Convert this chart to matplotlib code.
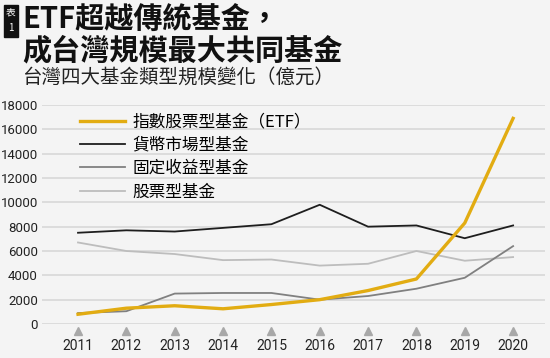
import matplotlib.pyplot as plt
from matplotlib.patches import Rectangle

plt.rcParams['font.family'] = ['Noto Sans CJK TC', 'DejaVu Sans']

years = [2011, 2012, 2013, 2014, 2015, 2016, 2017, 2018, 2019, 2020]
etf = [800, 1300, 1500, 1250, 1600, 2000, 2750, 3700, 8300, 16900]
money_market = [7500, 7700, 7600, 7900, 8200, 9800, 8000, 8100, 7050, 8100]
fixed_income = [900, 1050, 2500, 2550, 2550, 2000, 2300, 2900, 3800, 6400]
equity = [6700, 6000, 5750, 5250, 5300, 4800, 4950, 6000, 5200, 5500]
labels = ['指數股票型基金（ETF）', '貨幣市場型基金', '固定收益型基金', '股票型基金']

bg = '#f4f4f4'
fig = plt.figure(figsize=(5.5, 3.58), dpi=100, facecolor=bg)
ax = fig.add_axes([42/550, 34/358, 503/550, 219/358], facecolor=bg)

ax.plot(years, etf, color='#e2ac12', lw=2.4, label=labels[0], zorder=5)
ax.plot(years, money_market, color='#1e1e1e', lw=1.3, label=labels[1], zorder=4)
ax.plot(years, fixed_income, color='#808080', lw=1.3, label=labels[2], zorder=3)
ax.plot(years, equity, color='#bdbdbd', lw=1.3, label=labels[3], zorder=2)

num_font = ['Roboto', 'DejaVu Sans']
ax.set_xlim(2010.255, 2020.66)
ax.set_ylim(0, 18000)
ax.set_yticks(range(0, 18001, 2000))
ax.set_yticklabels([str(v) for v in range(0, 18001, 2000)], fontsize=9.5,
                   color='#222222', family=num_font)
ax.grid(axis='y', color='#d8d8d8', lw=1.2)
ax.set_axisbelow(True)
for s in ax.spines.values():
    s.set_visible(False)
ax.tick_params(axis='y', length=0, pad=3)
ax.tick_params(axis='x', length=0, pad=11)
ax.set_xticks(years)
ax.set_xticklabels([str(y) for y in years], fontsize=10, color='#222222', family=num_font)

# little triangles under each year
ax.plot(years, [-560] * len(years), marker='^', ls='none', color='#a8a8a8',
        markersize=6, clip_on=False)

leg = ax.legend(loc='upper left', bbox_to_anchor=(0.045, 1.03), frameon=False,
                fontsize=12, handlelength=2.7, handletextpad=0.45, labelspacing=0.38)

# title block
fig.patches.append(Rectangle((4/550, 1 - 37/358), 14/550, 32/358,
                             transform=fig.transFigure, color='#111111'))
fig.text(11/550, 1 - 13/358, '表', color='white', fontsize=7, ha='center', va='center')
fig.text(11/550, 1 - 28/358, '1', color='white', fontsize=7, ha='center', va='center')
fig.text(22/550, 1 - 20/358, 'ETF超越傳統基金，', fontsize=21, fontweight='bold',
         va='center', ha='left', color='#111111')
fig.text(22/550, 1 - 50/358, '成台灣規模最大共同基金', fontsize=21, fontweight='bold',
         va='center', ha='left', color='#111111')
fig.text(22/550, 1 - 77/358, '台灣四大基金類型規模變化（億元）', fontsize=14,
         va='center', ha='left', color='#222222')

fig.savefig('out.png', dpi=100, facecolor=bg)
